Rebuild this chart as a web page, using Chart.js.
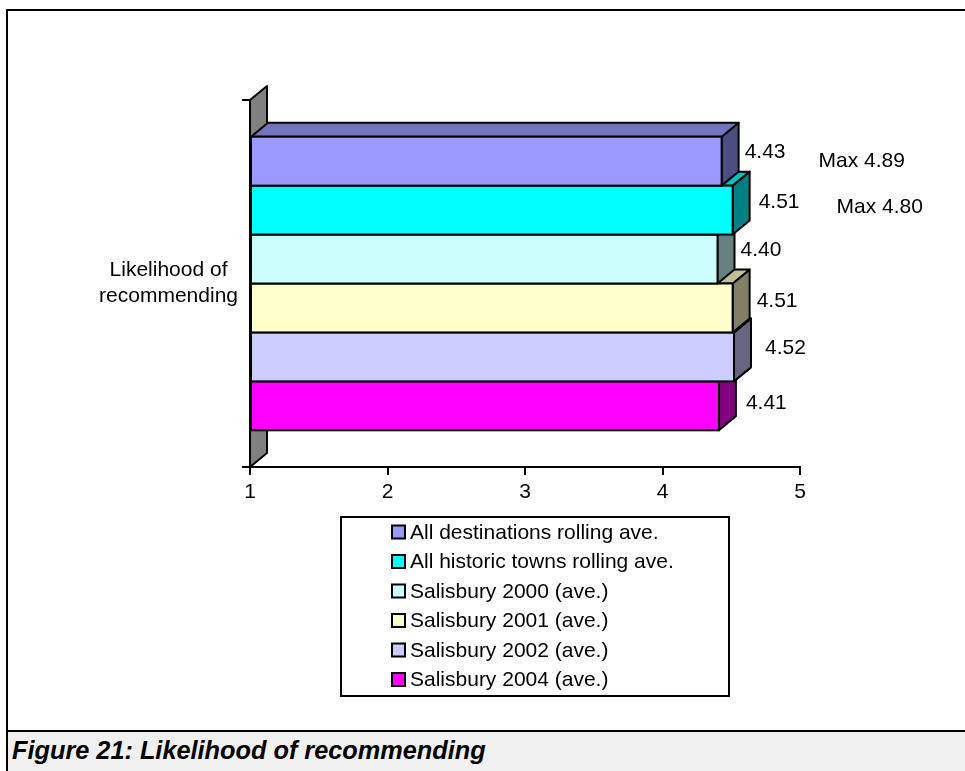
<!DOCTYPE html>
<html>
<head>
<meta charset="utf-8">
<title>Likelihood of recommending</title>
<script src="https://cdn.jsdelivr.net/npm/chart.js@4.4.1/dist/chart.umd.min.js"></script>
<style>
  html, body { margin: 0; padding: 0; background: #fff; }
  body { width: 965px; height: 771px; overflow: hidden; position: relative; }
  #frame {
    position: absolute; left: 6px; top: 9px; width: 1000px; height: 800px;
    border-left: 2px solid #000; border-top: 2px solid #000; box-sizing: border-box;
  }
  #chartBox { position: absolute; left: 0; top: 0; width: 965px; height: 730px; }
  #caption {
    position: absolute; left: 8px; top: 730px; width: 1000px; height: 60px;
    border-top: 2px solid #000; background: #f0f0f0;
  }
  #caption span {
    position: absolute; left: 4px; top: 6px; white-space: nowrap; color: #000;
    font: italic bold 25.3px/25px 'Liberation Sans', Arial, sans-serif;
  }
</style>
</head>
<body>
<div id="frame"></div>
<div id="chartBox"><canvas id="chart" width="965" height="730"></canvas></div>
<div id="caption"><span>Figure 21: Likelihood of recommending</span></div>
<script>
// ---- data ----
const categories = [['Likelihood of', 'recommending']];
const seriesNames = [
  'All destinations rolling ave.',
  'All historic towns rolling ave.',
  'Salisbury 2000 (ave.)',
  'Salisbury 2001 (ave.)',
  'Salisbury 2002 (ave.)',
  'Salisbury 2004 (ave.)'
];
const seriesValues = [4.43, 4.51, 4.40, 4.51, 4.52, 4.41];
const seriesMax = [4.89, 4.80, null, null, null, null];
const xTickValues = [1, 2, 3, 4, 5];
const axisMin = 1;
const axisMax = 5;

// ---- styling ----
const seriesColours = ['#9999FF', '#00FFFF', '#CCFFFF', '#FFFFCC', '#CCCCFF', '#FF00FF'];
const FONT = "'Liberation Sans', Arial, sans-serif";
const FONT_SIZE = 21;
const DEPTH_X = 17;   // 3-D depth offset to the right
const DEPTH_Y = 14;   // 3-D depth offset upwards
// value-label offsets [dx, dy] from the end of each bar's side face / bar centre
const labelNudges = [[6, -9], [9, -8], [6, -9], [7, -7], [14, -9], [10, -3]];
// "Max" note offsets [gap after value label, dy from bar centre]
const maxNudges = [[33, 0], [37, -3], null, null, null, null];

function shade(hex, f) {
  const n = parseInt(hex.slice(1), 16);
  const r = Math.round(((n >> 16) & 255) * f);
  const g = Math.round(((n >> 8) & 255) * f);
  const b = Math.round((n & 255) * f);
  return `rgb(${r},${g},${b})`;
}

function polygon(ctx, pts, fill) {
  ctx.beginPath();
  ctx.moveTo(pts[0][0], pts[0][1]);
  for (let i = 1; i < pts.length; i++) ctx.lineTo(pts[i][0], pts[i][1]);
  ctx.closePath();
  ctx.fillStyle = fill;
  ctx.fill();
  ctx.lineWidth = 2;
  ctx.strokeStyle = '#000';
  ctx.lineJoin = 'round';
  ctx.stroke();
}

// Grey side wall plus top and side faces of each bar, giving the 3-D look.
const depthPlugin = {
  id: 'depth3d',
  beforeDatasetsDraw(chart) {
    const { ctx, chartArea: a } = chart;
    ctx.save();
    polygon(ctx, [
      [a.left, a.top], [a.left + DEPTH_X, a.top - DEPTH_Y],
      [a.left + DEPTH_X, a.bottom - DEPTH_Y], [a.left, a.bottom]
    ], '#808080');
    ctx.restore();
  },
  beforeDatasetDraw(chart, args) {
    const ctx = chart.ctx;
    const colour = seriesColours[args.index];
    ctx.save();
    args.meta.data.forEach(bar => {
      const p = bar.getProps(['x', 'y', 'base', 'height'], true);
      const top = p.y - p.height / 2, bottom = p.y + p.height / 2;
      polygon(ctx, [
        [p.x, top], [p.x + DEPTH_X, top - DEPTH_Y],
        [p.x + DEPTH_X, bottom - DEPTH_Y], [p.x, bottom]
      ], shade(colour, 0.5));
      polygon(ctx, [
        [p.base, top], [p.base + DEPTH_X, top - DEPTH_Y],
        [p.x + DEPTH_X, top - DEPTH_Y], [p.x, top]
      ], shade(colour, 0.75));
    });
    ctx.restore();
  },
  afterDatasetDraw(chart, args) {
    const ctx = chart.ctx;
    ctx.save();
    ctx.lineWidth = 2;
    ctx.strokeStyle = '#000';
    args.meta.data.forEach(bar => {
      const p = bar.getProps(['x', 'y', 'base', 'height'], true);
      ctx.strokeRect(p.base, p.y - p.height / 2, p.x - p.base, p.height);
    });
    ctx.restore();
  }
};

// Value labels and the "Max" notes next to the first bars.
const labelPlugin = {
  id: 'valueLabels',
  afterDatasetsDraw(chart) {
    const ctx = chart.ctx;
    ctx.save();
    ctx.font = `${FONT_SIZE}px ${FONT}`;
    ctx.fillStyle = '#000';
    ctx.textAlign = 'left';
    ctx.textBaseline = 'middle';
    chart.data.datasets.forEach((ds, i) => {
      const bar = chart.getDatasetMeta(i).data[0];
      const p = bar.getProps(['x', 'y'], true);
      const text = ds.data[0].toFixed(2);
      const lx = p.x + DEPTH_X + labelNudges[i][0];
      const ly = p.y + labelNudges[i][1];
      ctx.fillText(text, lx, ly);
      if (seriesMax[i] != null && maxNudges[i]) {
        const mx = lx + ctx.measureText(text).width + maxNudges[i][0];
        ctx.fillText('Max ' + seriesMax[i].toFixed(2), mx, p.y + maxNudges[i][1]);
      }
    });
    ctx.restore();
  }
};

// Boxed, single-column legend below the axis.
const boxLegendPlugin = {
  id: 'boxLegend',
  afterDraw(chart, args, opts) {
    const ctx = chart.ctx;
    const items = chart.options.plugins.legend.labels.generateLabels(chart);
    ctx.save();
    ctx.lineWidth = 2;
    ctx.strokeStyle = '#000';
    ctx.strokeRect(opts.x, opts.y, opts.w, opts.h);
    ctx.font = `${FONT_SIZE}px ${FONT}`;
    ctx.textBaseline = 'middle';
    ctx.textAlign = 'left';
    items.forEach((it, i) => {
      const cy = opts.y + opts.firstRow + i * opts.rowStep;
      ctx.fillStyle = it.fillStyle;
      ctx.fillRect(opts.boxX, cy - opts.box / 2, opts.box, opts.box);
      ctx.lineWidth = 2;
      ctx.strokeRect(opts.boxX, cy - opts.box / 2, opts.box, opts.box);
      ctx.fillStyle = '#000';
      ctx.fillText(it.text, opts.textX, cy + 1);
    });
    ctx.restore();
  }
};

new Chart(document.getElementById('chart'), {
  type: 'bar',
  data: {
    labels: categories,
    datasets: seriesNames.map((name, i) => ({
      label: name,
      data: [seriesValues[i]],
      base: axisMin,
      backgroundColor: seriesColours[i],
      borderWidth: 0,
      categoryPercentage: 0.8,
      barPercentage: 1.0,
      clip: false
    }))
  },
  options: {
    indexAxis: 'y',
    responsive: false,
    devicePixelRatio: 1,
    animation: false,
    events: [],
    layout: { padding: { left: 90, right: 165, top: 100, bottom: 0 } },
    scales: {
      x: {
        type: 'linear',
        min: axisMin,
        max: axisMax,
        afterBuildTicks(scale) { scale.ticks = xTickValues.map(v => ({ value: v })); },
        grid: { drawOnChartArea: false, tickLength: 8, color: '#000', lineWidth: 2 },
        border: { color: '#000', width: 2 },
        ticks: { padding: 5, color: '#000', font: { family: FONT, size: FONT_SIZE } },
        afterFit(scale) { scale.height = 263; }
      },
      y: {
        type: 'category',
        grid: { offset: true, drawOnChartArea: false, tickLength: 8, color: '#000', lineWidth: 2 },
        border: { color: '#000', width: 2 },
        ticks: {
          crossAlign: 'center', padding: 4, color: '#000', autoSkip: false,
          font: { family: FONT, size: FONT_SIZE, lineHeight: 1.25 }
        },
        afterFit(scale) { scale.width = 160; }
      }
    },
    plugins: {
      legend: { display: false },
      tooltip: { enabled: false },
      boxLegend: { x: 341, y: 517, w: 388, h: 179, firstRow: 15, rowStep: 29.5, box: 13, boxX: 392, textX: 410 }
    }
  },
  plugins: [depthPlugin, labelPlugin, boxLegendPlugin]
});
</script>
</body>
</html>
